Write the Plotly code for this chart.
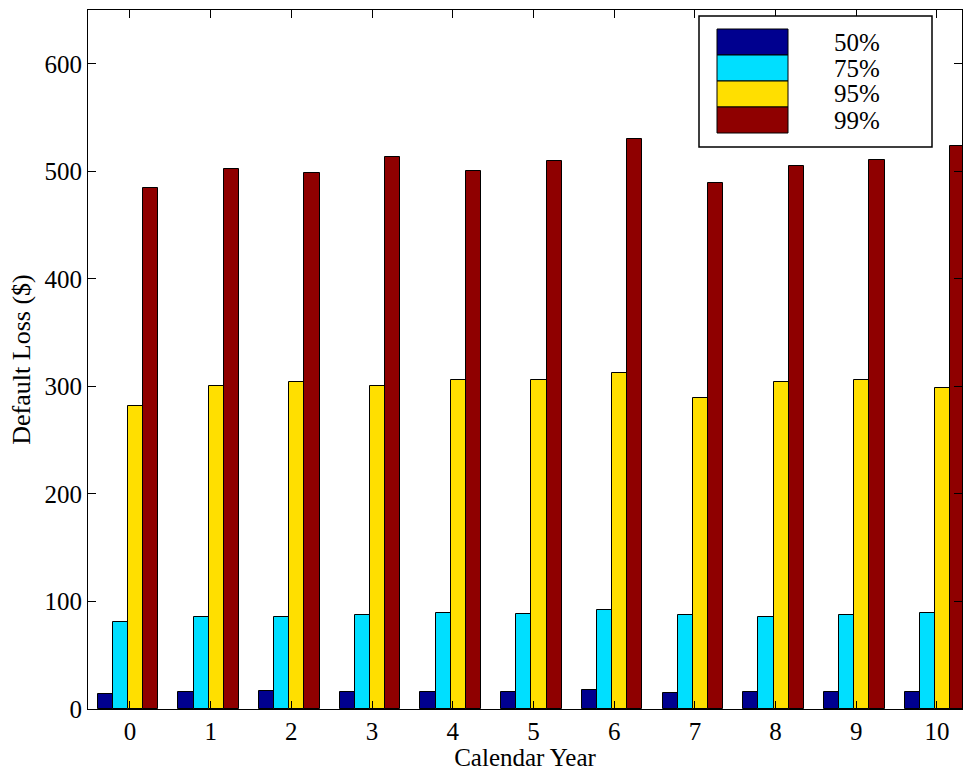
import plotly.graph_objects as go

years = list(range(11))
series_names = ["50%", "75%", "95%", "99%"]
colors = ["#00008F", "#00DFFF", "#FFDF00", "#8F0000"]

p50 = [14, 15.8, 16.7, 15.8, 15.8, 15.8, 17.7, 14.9, 15.8, 15.8, 15.8]
p75 = [80.9, 85.6, 85.6, 87.4, 89.3, 88.4, 92.1, 87.4, 85.6, 87.4, 89.3]
p95 = [281.9, 300.5, 304.2, 300.5, 306.0, 306.0, 312.6, 289.3, 304.2, 306.0, 298.6]
p99 = [484.7, 502.3, 498.6, 513.5, 500.5, 509.8, 530.2, 489.3, 505.1, 510.7, 523.7]
series = [p50, p75, p95, p99]

x_ticks = years
y_ticks = [0, 100, 200, 300, 400, 500, 600]

FONT = "Liberation Serif"
W, H = 964, 771
ML, MR, MT, MB = 88, 2, 10, 62
PW, PH = W - ML - MR, H - MT - MB

def px(x):
    return (x - ML) / PW

def py(y):
    return 1 - (y - MT) / PH

fig = go.Figure()
bw = 0.1875
for i, (name, vals, c) in enumerate(zip(series_names, series, colors)):
    fig.add_trace(go.Bar(
        x=years, y=vals, name=name, width=bw, offset=-0.4 + i * bw,
        marker=dict(color=c, line=dict(color="black", width=1)),
        showlegend=False,
    ))

# manual legend box in matplotlib style
shapes = [dict(type="rect", xref="paper", yref="paper",
               x0=px(699), x1=px(932), y0=py(147), y1=py(16),
               line=dict(color="black", width=1.5), fillcolor="white", layer="above")]
annotations = []
row_tops = [29, 55, 81, 107]
for i, (name, c) in enumerate(zip(series_names, colors)):
    t = row_tops[i]
    shapes.append(dict(type="rect", xref="paper", yref="paper",
                       x0=px(717), x1=px(788), y0=py(t + 26), y1=py(t),
                       line=dict(color="black", width=1), fillcolor=c, layer="above"))
    annotations.append(dict(xref="paper", yref="paper", x=px(857), y=py(t + 13),
                            text=name, showarrow=False, xanchor="center", yanchor="middle",
                            font=dict(family=FONT, size=25, color="black")))

axis_common = dict(showline=True, linecolor="black", linewidth=1, mirror="ticks",
                   ticks="inside", ticklen=8, tickcolor="black", showgrid=False,
                   zeroline=False, tickfont=dict(family=FONT, size=25, color="black"))

fig.update_layout(
    width=W, height=H, margin=dict(l=ML, r=MR, t=MT, b=MB),
    plot_bgcolor="white", paper_bgcolor="white",
    shapes=shapes, annotations=annotations, bargap=0,
    xaxis=dict(range=[-0.52, 10.31], tickvals=x_ticks, ticktext=[str(v) for v in x_ticks],
               title=dict(text="Calendar Year", font=dict(family=FONT, size=25, color="black"), standoff=13),
               automargin=False, **axis_common),
    yaxis=dict(range=[0, 650], tickvals=y_ticks,
               title=dict(text="Default Loss ($)", font=dict(family=FONT, size=26, color="black"), standoff=6),
               automargin=False, **axis_common),
)

fig.write_html("out.html", config={"displayModeBar": False},
               post_script="document.body.style.margin='0';document.body.style.overflow='hidden';")
